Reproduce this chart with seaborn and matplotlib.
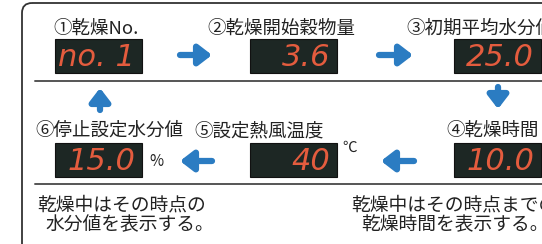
import seaborn as sns
import matplotlib.pyplot as plt
from matplotlib.patches import FancyBboxPatch, Rectangle

# display panel data
step_labels = ['①乾燥No.', '②乾燥開始穀物量', '③初期平均水分値',
               '④乾燥時間', '⑤設定熱風温度', '⑥停止設定水分値']
display_values = ['no. 1', '3.6', '25.0', '10.0', '40', '15.0']
units = ['', '', '', '', '℃', '%']
note_left = ['乾燥中はその時点の', '水分値を表示する。']
note_right = ['乾燥中はその時点までの', '乾燥時間を表示する。']

sns.set_theme(style='white')
plt.rcParams['font.family'] = ['Noto Sans CJK JP', 'DejaVu Sans']

fig = plt.figure(figsize=(5.42, 2.44), dpi=100)
ax = fig.add_axes([0, 0, 1, 1])
ax.set_xlim(0, 542)
ax.set_ylim(244, 0)
ax.axis('off')

# outer frame and separator lines
ax.add_patch(FancyBboxPatch((22, 3), 560, 300, boxstyle='round,pad=0,rounding_size=10',
                            fill=False, ec='#333333', lw=1.3))
ax.plot([35, 542], [81, 81], color='#555555', lw=1.4)
ax.plot([35, 542], [184, 184], color='#555555', lw=1.4)

# box positions (left x, top y) and label positions
box_pos = [(55, 39), (250, 39), (454, 39), (454, 143), (250, 143), (55, 143)]
label_pos = [(53, 29), (207, 29), (406, 29), (446, 131), (194, 131), (35, 131)]
box_w, box_h = 87, 34

for lab, (lx, ly) in zip(step_labels, label_pos):
    ax.text(lx, ly, lab, fontsize=13.3, color='#222222', ha='left', va='center')

for val, unit, (bx, by) in zip(display_values, units, box_pos):
    ax.add_patch(Rectangle((bx, by), box_w, box_h, fc='#1d2724', ec='#111111', lw=0.8))
    ax.text(bx + box_w - 7, by + box_h / 2 + 1, val, fontsize=22, color='#e45c3e',
            family='DejaVu Sans', style='oblique', ha='right', va='center')
    if unit == '%':
        ax.text(bx + box_w + 7, by + 18, unit, fontsize=11, color='#222222',
                ha='left', va='center')
    elif unit:
        ax.text(bx + box_w + 5, by + 5, unit, fontsize=10.5, color='#222222',
                ha='left', va='center')

# blue arrows between the displays
arrow_blue = '#2b7cc2'
arrows = [((180, 55), (212, 55)), ((379, 55), (413, 55)),
          ((498, 87), (498, 109)), ((212, 161), (180, 161)),
          ((414, 161), (381, 161)), ((100, 110), (100, 88))]
for (x0, y0), (x1, y1) in arrows:
    ax.annotate('', xy=(x1, y1), xytext=(x0, y0),
                arrowprops=dict(arrowstyle='-|>,head_length=0.65,head_width=0.5',
                                color=arrow_blue, lw=4.5, shrinkA=0, shrinkB=0))

# notes below the panel
for i, line in enumerate(note_left):
    ax.text(37 + 8 * i, 205 + 20 * i, line, fontsize=13.5, color='#222222',
            ha='left', va='center')
for i, line in enumerate(note_right):
    ax.text(351 + 10 * i, 205 + 20 * i, line, fontsize=13.5, color='#222222',
            ha='left', va='center')

fig.savefig('out.png', dpi=100)
